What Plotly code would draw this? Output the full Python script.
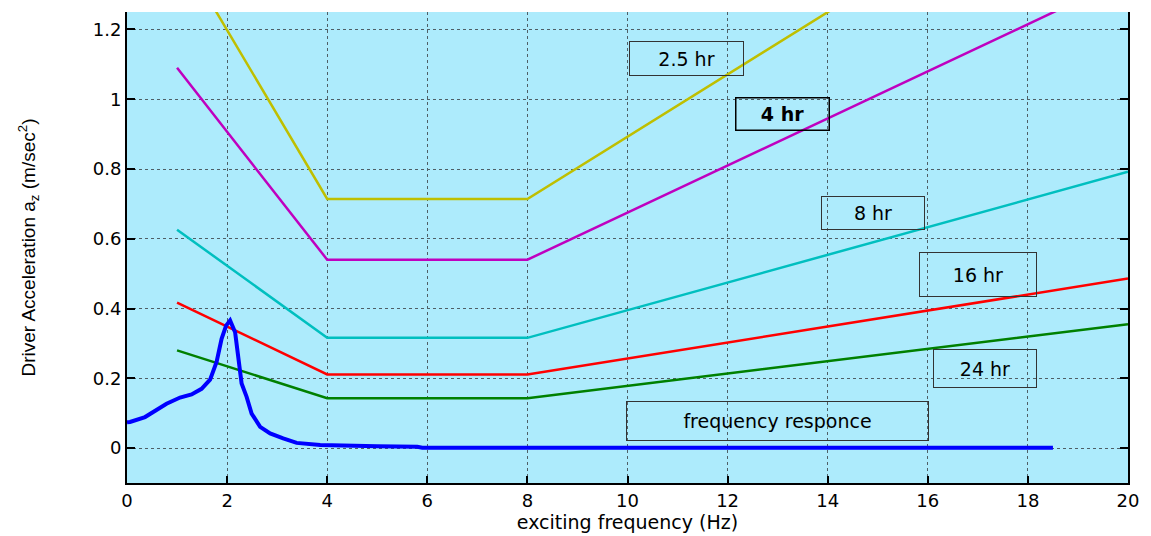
import plotly.graph_objects as go

# ---- data ----
bp_freq = [1, 4, 8, 20]
acc_2p5hr = [1.44, 0.714, 0.714, 1.785]
acc_4hr = [1.09, 0.54, 0.54, 1.35]
acc_8hr = [0.626, 0.316, 0.316, 0.792]
acc_16hr = [0.417, 0.211, 0.211, 0.486]
acc_24hr = [0.28, 0.143, 0.143, 0.355]

resp_freq = [0.0, 0.06, 0.36, 0.53, 0.79, 1.06, 1.29, 1.49, 1.66, 1.79, 1.89, 1.98, 2.06,
             2.16, 2.22, 2.29, 2.39, 2.49, 2.66, 2.86, 3.12, 3.39, 3.86, 4.39, 5.0, 5.8, 5.9, 18.5]
resp_acc = [0.074, 0.075, 0.089, 0.104, 0.127, 0.145, 0.154, 0.17, 0.196, 0.247, 0.313, 0.351, 0.366,
            0.332, 0.27, 0.185, 0.147, 0.099, 0.061, 0.042, 0.028, 0.015, 0.009, 0.006, 0.005, 0.004, 0.001, 0.001]

x_ticks = [0, 2, 4, 6, 8, 10, 12, 14, 16, 18, 20]
y_ticks = [0, 0.2, 0.4, 0.6, 0.8, 1.0, 1.2]
y_tick_labels = ["0", "0.2", "0.4", "0.6", "0.8", "1", "1.2"]

labels = ["2.5 hr", "4 hr", "8 hr", "16 hr", "24 hr", "frequency responce"]
label_x = [11.17, 13.09, 14.9, 17.0, 17.14, 13.0]
label_y = [1.117, 0.957, 0.673, 0.499, 0.227, 0.079]
label_w = [113, 92, 102, 116, 102, 301]
label_h = [33, 31, 32, 43, 37, 38]

# ---- figure ----
fig = go.Figure()
series = [
    (acc_2p5hr, "#BFBF00"),
    (acc_4hr, "#BF00BF"),
    (acc_8hr, "#00BFBF"),
    (acc_16hr, "#FF0000"),
    (acc_24hr, "#008000"),
]
for vals, col in series:
    fig.add_trace(go.Scatter(x=bp_freq, y=vals, mode="lines",
                             line=dict(color=col, width=2.5), showlegend=False))
fig.add_trace(go.Scatter(x=resp_freq, y=resp_acc, mode="lines",
                         line=dict(color="#0000FF", width=4), showlegend=False))

for i, t in enumerate(labels):
    bold = (t == "4 hr")
    fig.add_annotation(
        x=label_x[i], y=label_y[i], xref="x", yref="y",
        text=("<b>%s</b>" % t) if bold else t,
        showarrow=False, xanchor="center", yanchor="middle",
        width=label_w[i], height=label_h[i], borderpad=0,
        bordercolor="#000000" if bold else "#333333",
        borderwidth=1.5 if bold else 1,
        font=dict(family="DejaVu Sans", size=19, color="black"),
    )

# the page body has an 8px margin; the figure is sized to fill the window from there
fig.update_layout(
    width=1143, height=528,
    margin=dict(l=119, r=23, t=4, b=53),
    paper_bgcolor="white",
    plot_bgcolor="#ADEBFC",
    font=dict(family="DejaVu Sans", size=18, color="black"),
)
fig.update_xaxes(
    range=[0, 20], tickvals=x_ticks, ticktext=[str(v) for v in x_ticks],
    showgrid=True, gridcolor="#4f5f66", griddash="dot", gridwidth=1,
    zeroline=False, showline=True, linecolor="black", linewidth=2,
    ticks="inside", ticklen=7, tickcolor="black", tickwidth=1.5,
    title=dict(text="exciting frequency (Hz)", standoff=2,
               font=dict(family="DejaVu Sans", size=19)),
    tickfont=dict(family="DejaVu Sans", size=18),
)
fig.update_yaxes(
    range=[-0.1, 1.25], tickvals=y_ticks, ticktext=y_tick_labels,
    showgrid=True, gridcolor="#4f5f66", griddash="dot", gridwidth=1,
    zeroline=False, showline=True, linecolor="black", linewidth=2,
    mirror="ticks",
    ticks="inside", ticklen=8, tickcolor="black", tickwidth=1.5,
    title=dict(text="Driver Acceleration a<sub>z</sub> (m/sec<sup>2</sup>)", standoff=52,
               font=dict(family="Liberation Sans, Arial", size=19)),
    tickfont=dict(family="DejaVu Sans", size=18),
)

fig.write_html("out.html")
